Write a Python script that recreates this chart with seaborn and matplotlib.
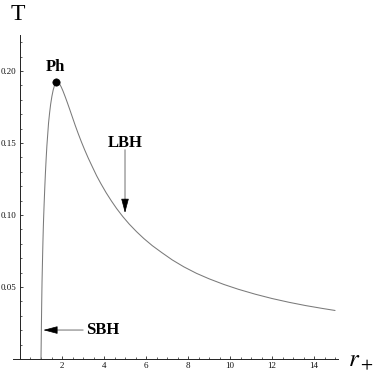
import matplotlib
matplotlib.use("Agg")
import matplotlib.pyplot as plt
from matplotlib.ticker import MultipleLocator, FixedLocator, FixedFormatter
import seaborn as sns
import pandas as pd

# ---- data ----
r_plus = [1.00, 1.01, 1.02, 1.03, 1.04, 1.05, 1.065, 1.08, 1.095, 1.11, 1.125,
          1.15, 1.18, 1.21, 1.245, 1.28, 1.32, 1.36, 1.41, 1.46, 1.52, 1.58, 1.65,
          1.72, 1.80, 1.88, 1.96, 2.05, 2.15, 2.26, 2.38, 2.50, 2.63, 2.77, 2.92,
          3.08, 3.25, 3.45, 3.65, 3.85, 4.10, 4.35, 4.60, 4.90, 5.20, 5.55, 5.90,
          6.30, 6.75, 7.25, 7.80, 8.40, 9.00, 9.70, 10.40, 11.20, 12.00, 12.80,
          13.60, 14.40, 15.00]
T_vals = [0.000, 0.012, 0.024, 0.035, 0.045, 0.054, 0.064, 0.074, 0.083, 0.091, 0.098,
          0.108, 0.119, 0.129, 0.139, 0.148, 0.156, 0.164, 0.171, 0.177, 0.1825, 0.1868, 0.1903,
          0.1922, 0.1925, 0.1912, 0.1890, 0.1860, 0.1822, 0.1778, 0.1728, 0.1677, 0.1622, 0.1566, 0.1509,
          0.1452, 0.1395, 0.1333, 0.1272, 0.1218, 0.1155, 0.1098, 0.1045, 0.0988, 0.0937, 0.0884, 0.0836,
          0.0787, 0.0739, 0.0688, 0.0640, 0.0595, 0.0557, 0.0518, 0.0484, 0.0450, 0.0420, 0.0394,
          0.0371, 0.0351, 0.0337]
peak_r = [1.72]
peak_T = [0.1925]
x_ticks = [2, 4, 6, 8, 10, 12, 14]
y_ticks = [0.05, 0.10, 0.15, 0.20]
y_tick_labels = ["0.05", "0.10", "0.15", "0.20"]

df = pd.DataFrame({"r": r_plus, "T": T_vals})
df_peak = pd.DataFrame({"r": peak_r, "T": peak_T})

sns.set_style("white")
plt.rcParams["font.family"] = ["Liberation Serif", "DejaVu Serif"]
plt.rcParams["mathtext.fontset"] = "stix"
plt.rcParams["text.color"] = "black"

fig = plt.figure(figsize=(3.74, 3.74), dpi=100)
ax = fig.add_axes([13 / 374, 15 / 374, 325 / 374, 324 / 374])

sns.lineplot(data=df, x="r", y="T", ax=ax, color="#7a7a7a", linewidth=0.75,
             sort=False, estimator=None)
sns.scatterplot(data=df_peak, x="r", y="T", ax=ax, color="black", s=28,
                edgecolor="black", zorder=5)

ax.set_xlim(-0.333, 15.14)
ax.set_ylim(0, 0.225)

for s in ["top", "right"]:
    ax.spines[s].set_visible(False)
ax.spines["left"].set_position(("data", 0))
ax.spines["bottom"].set_position(("data", 0))
for s in ["left", "bottom"]:
    ax.spines[s].set_color("#222222")
    ax.spines[s].set_linewidth(0.7)

ax.xaxis.set_major_locator(FixedLocator(x_ticks))
ax.xaxis.set_minor_locator(MultipleLocator(0.5))
ax.yaxis.set_major_locator(FixedLocator(y_ticks))
ax.yaxis.set_major_formatter(FixedFormatter(y_tick_labels))
ax.yaxis.set_minor_locator(MultipleLocator(0.01))
ax.tick_params(which="major", direction="in", length=2.5, width=0.6, color="#222222",
               labelsize=6.5, pad=2.5, labelcolor="#111111")
ax.tick_params(which="minor", direction="in", length=1.5, width=0.5, color="#222222")
ax.tick_params(axis="y", which="both", left=True)
ax.tick_params(axis="x", which="both", bottom=True)
ax.set_xlabel("")
ax.set_ylabel("")

# axis labels
fig.text(18 / 374, 1 - 15 / 374, "T", fontsize=17, ha="center", va="center", color="black")
fig.text(348 / 374, 1 - 361 / 374, r"$r_+$", fontsize=18, ha="left", va="center", color="black")

# annotations: gray shaft + black head
shaft = dict(arrowstyle="-", color="#999999", lw=1.0, shrinkA=0, shrinkB=0)
head = dict(arrowstyle="-|>,head_length=0.75,head_width=0.2", color="black",
            lw=0.5, mutation_scale=12, shrinkA=0, shrinkB=0)

ax.text(1.70, 0.203, "Ph", fontsize=12, fontweight="bold", ha="center", va="center", color="black")

ax.text(5.0, 0.150, "LBH", fontsize=12, fontweight="bold", ha="center", va="center", color="black")
ax.annotate("", xy=(5.0, 0.1060), xytext=(5.0, 0.1452), arrowprops=shaft)
ax.annotate("", xy=(5.0, 0.1014), xytext=(5.0, 0.1110), arrowprops=head)

ax.text(3.95, 0.0201, "SBH", fontsize=12, fontweight="bold", ha="center", va="center", color="black")
ax.annotate("", xy=(1.35, 0.0201), xytext=(3.0, 0.0201), arrowprops=shaft)
ax.annotate("", xy=(1.11, 0.0201), xytext=(1.65, 0.0201), arrowprops=head)

fig.savefig("out.png", dpi=100)
